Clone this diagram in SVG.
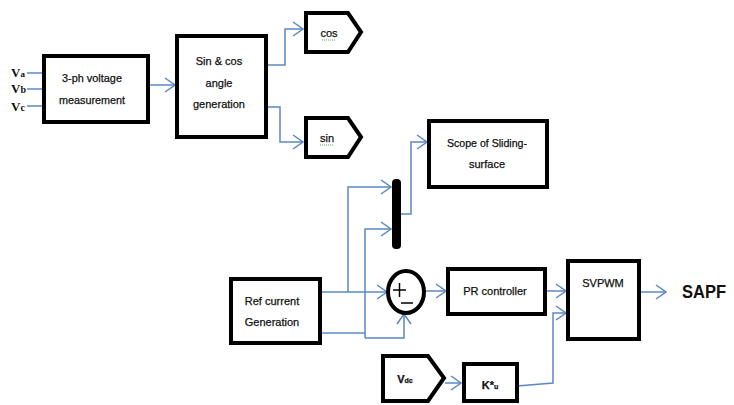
<svg xmlns="http://www.w3.org/2000/svg" width="734" height="405" viewBox="0 0 734 405">
<defs>
<style>
.box{fill:#fff;stroke:#000;stroke-width:4}
.ln{fill:none;stroke:#5b88c4;stroke-width:1.5}
.t{font-family:"Liberation Sans",Arial,sans-serif;font-size:11px;fill:#111;stroke:#111;stroke-width:0.25;text-anchor:middle}
.v{font-family:"Liberation Serif","Times New Roman",serif;font-size:13px;font-weight:bold;fill:#111}
</style>
<marker id="ah" viewBox="0 0 12 16" refX="11" refY="8" markerWidth="12" markerHeight="16" markerUnits="userSpaceOnUse" orient="auto">
<path d="M1,1 L11,8 L1,15" fill="none" stroke="#5b88c4" stroke-width="1.5"/>
</marker>
</defs>
<rect width="734" height="405" fill="#fff"/>
<g id="connectors">
<path class="ln" d="M27,73 H43"/>
<path class="ln" d="M27,89 H43"/>
<path class="ln" d="M27,106 H43"/>
<path class="ln" d="M148,85 H175" marker-end="url(#ah)"/>
<path class="ln" d="M265,65 H285 V29 H303" marker-end="url(#ah)"/>
<path class="ln" d="M265,107 H280 V142 H303" marker-end="url(#ah)"/>
<path class="ln" d="M401,214 H411 V142 H427" marker-end="url(#ah)"/>
<path class="ln" d="M320,292 H387" marker-end="url(#ah)"/>
<path class="ln" d="M348,292 V187 H391" marker-end="url(#ah)"/>
<path class="ln" d="M320,333 H365"/>
<path class="ln" d="M365,338 V229 H391" marker-end="url(#ah)"/>
<path class="ln" d="M365,338 H404 V314" marker-end="url(#ah)"/>
<path class="ln" d="M425,291 H446" marker-end="url(#ah)"/>
<path class="ln" d="M545,291 H566" marker-end="url(#ah)"/>
<path class="ln" d="M517,386 L553,383 V313 H566" marker-end="url(#ah)"/>
<path class="ln" d="M445,383 H461" marker-end="url(#ah)"/>
<path class="ln" d="M639,292 H666" marker-end="url(#ah)"/>
</g>
<g id="inputs">
<text class="v" x="11" y="77">V<tspan font-size="9">a</tspan></text>
<text class="v" x="11" y="93">V<tspan font-size="10">b</tspan></text>
<text class="v" x="11" y="111">V<tspan font-size="10">c</tspan></text>
</g>
<g id="measure">
<rect class="box" x="44" y="56" width="104" height="66"/>
<text class="t" x="92" y="82" font-size="12" textLength="60" lengthAdjust="spacingAndGlyphs">3-ph voltage</text>
<text class="t" x="92" y="104" font-size="12" textLength="66" lengthAdjust="spacingAndGlyphs">measurement</text>
</g>
<g id="sincos">
<rect class="box" x="177" y="36" width="89" height="101"/>
<text class="t" x="219" y="65" font-size="12">Sin &amp; cos</text>
<text class="t" x="219" y="87" font-size="12">angle</text>
<text class="t" x="219" y="108" font-size="12">generation</text>
</g>
<g id="cos">
<path class="box" d="M306,13 H348 L361,32 L348,52 H306 Z"/>
<text class="t" x="329" y="37" font-size="10">cos</text>
<path d="M322,40 H336" stroke="#4caf50" stroke-width="1" stroke-dasharray="1,1"/>
</g>
<g id="sin">
<path class="box" d="M306,118 H348 L361,137 L348,157 H306 Z"/>
<text class="t" x="327" y="142" font-size="10">sin</text>
<path d="M320,145 H334" stroke="#4caf50" stroke-width="1" stroke-dasharray="1,1"/>
</g>
<g id="scope">
<rect class="box" x="429" y="121" width="118" height="66"/>
<text class="t" x="487" y="147" font-size="12" textLength="80" lengthAdjust="spacingAndGlyphs">Scope of Sliding-</text>
<text class="t" x="487" y="168" font-size="12">surface</text>
</g>
<g id="mux">
<rect x="392" y="179" width="9" height="70" rx="4" fill="#000"/>
</g>
<g id="refcurrent">
<rect class="box" x="231" y="279" width="89" height="64"/>
<text class="t" x="272" y="305" font-size="12">Ref current</text>
<text class="t" x="272" y="326" font-size="12">Generation</text>
</g>
<g id="sum">
<ellipse cx="406" cy="292" rx="18" ry="21" fill="#fff" stroke="#000" stroke-width="4"/>
<path d="M393,290 H406 M399.5,283 V297" stroke="#000" stroke-width="1.5"/>
<path d="M401,303 H413" stroke="#000" stroke-width="1.5"/>
</g>
<g id="pr">
<rect class="box" x="448" y="269" width="97" height="45"/>
<text class="t" x="495" y="295" font-size="12">PR controller</text>
</g>
<g id="svpwm">
<rect class="box" x="568" y="261" width="71" height="78"/>
<text class="t" x="603" y="287" font-size="12">SVPWM</text>
</g>
<g id="vdc">
<path class="box" d="M383,356 H428 L444,378 L428,401 H383 Z"/>
<text class="t" x="405" y="383" font-size="12" font-weight="bold">V<tspan font-size="7">dc</tspan></text>
</g>
<g id="gain">
<rect class="box" x="464" y="364" width="53" height="37"/>
<text class="t" x="490" y="389" font-size="10" font-weight="bold">K*<tspan font-size="7">u</tspan></text>
</g>
<g id="sapf">
<text x="682" y="298" font-family="Liberation Sans,Arial,sans-serif" font-size="19" font-weight="bold" fill="#111" textLength="44" lengthAdjust="spacingAndGlyphs">SAPF</text>
</g>
</svg>
